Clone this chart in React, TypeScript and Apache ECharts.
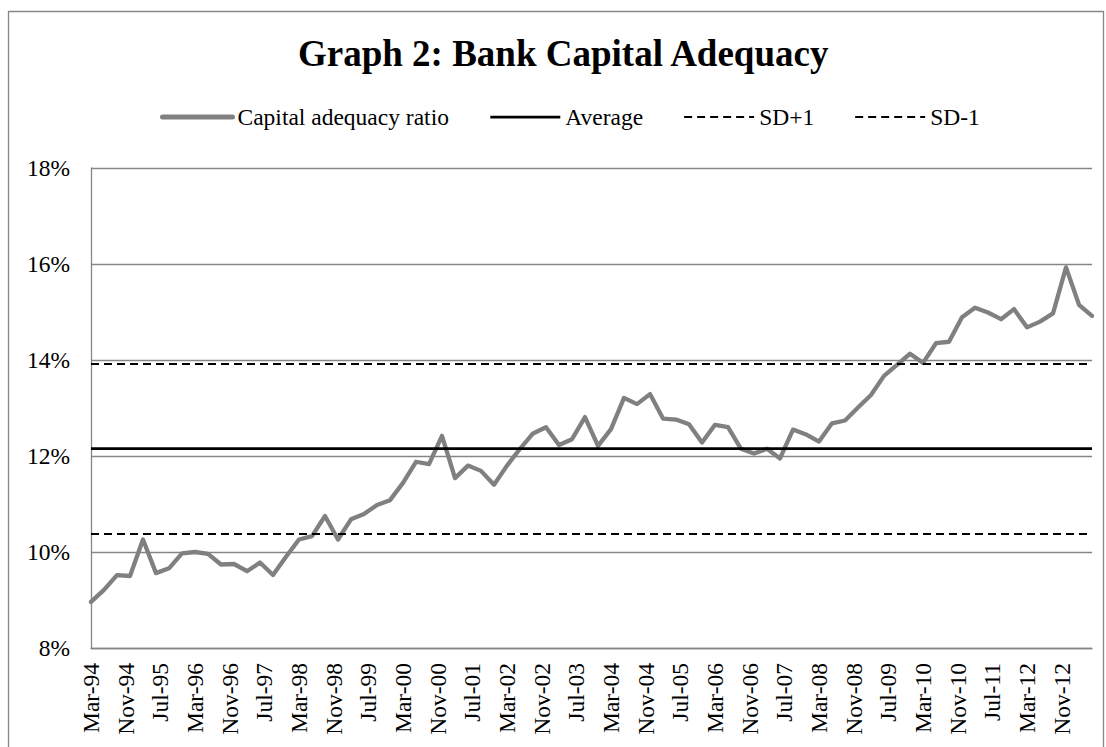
import React, { useEffect, useRef } from "react";
import * as echarts from "echarts";

const FONT = '"Liberation Serif", "Times New Roman", serif';

const MONTH_NAMES = ["Jan", "Feb", "Mar", "Apr", "May", "Jun", "Jul", "Aug", "Sep", "Oct", "Nov", "Dec"];

// Monthly date axis from Mar-94 to Jun-13 (labels shown every 8 months)
const monthCategories: string[] = [];
for (let k = 0; k < 232; k++) {
  const m = (2 + k) % 12;
  const y = 1994 + Math.floor((2 + k) / 12);
  monthCategories.push(`${MONTH_NAMES[m]}-${String(y % 100).padStart(2, "0")}`);
}

// Quarterly observation dates (Mar, Jun, Sep, Dec)
const quarterDates: string[] = monthCategories.filter((_, k) => k % 3 === 0);

// Capital adequacy ratio, %
const capitalRatio: number[] = [
  8.96, 9.21, 9.52, 9.5, 10.26, 9.56, 9.66, 9.97, 10.0, 9.96,
  9.74, 9.75, 9.6, 9.78, 9.52, 9.9, 10.26, 10.33, 10.75, 10.26,
  10.68, 10.79, 10.98, 11.08, 11.44, 11.88, 11.83, 12.42, 11.54, 11.8,
  11.69, 11.4, 11.8, 12.15, 12.47, 12.6, 12.23, 12.35, 12.81, 12.21,
  12.56, 13.21, 13.08, 13.29, 12.78, 12.76, 12.66, 12.28, 12.65, 12.6,
  12.15, 12.05, 12.15, 11.95, 12.55, 12.45, 12.3, 12.68, 12.74, 13.01,
  13.27, 13.67, 13.9, 14.13, 13.94, 14.35, 14.38, 14.89, 15.09, 14.99,
  14.85, 15.06, 14.68, 14.8, 14.97, 15.93, 15.15, 14.92,
];

const AVERAGE = 12.16;
const SD_PLUS_1 = 13.93;
const SD_MINUS_1 = 10.38;

const Y_TICKS = { min: 8, max: 18, interval: 2 };

const RATIO_COLOR = "#808080";
const DASH = [8, 5];

export default function App() {
  const ref = useRef<HTMLDivElement>(null);

  useEffect(() => {
    if (!ref.current) return;
    const chart = echarts.init(ref.current, undefined, { renderer: "svg" });

    const refLine = (name: string, value: number, type: any, width: number) => ({
      name,
      type: "line",
      data: [],
      symbol: "none",
      lineStyle: { color: "#000", width, type },
      itemStyle: { color: "#000" },
      markLine: {
        silent: true,
        symbol: ["none", "none"],
        label: { show: false },
        lineStyle: { color: "#000", width, type },
        emphasis: { disabled: true },
        data: [{ yAxis: value }],
      },
    });

    chart.setOption({
      animation: false,
      backgroundColor: "#fff",
      title: {
        text: "Graph 2: Bank Capital Adequacy",
        left: 298,
        top: 35,
        padding: 0,
        textStyle: { fontFamily: FONT, fontSize: 37, fontWeight: "bold", color: "#000" },
      },
      legend: {
        left: 160,
        top: 104,
        padding: 0,
        itemWidth: 70,
        itemHeight: 14,
        itemGap: 40,
        itemStyle: { opacity: 0, borderWidth: 0 },
        textStyle: { fontFamily: FONT, fontSize: 23.5, color: "#000", lineHeight: 26 },
        data: [
          { name: "Capital adequacy ratio", lineStyle: { color: RATIO_COLOR, width: 5, cap: "round" } },
          { name: "Average", lineStyle: { color: "#000", width: 2.75, type: "solid" } },
          { name: "SD+1", lineStyle: { color: "#000", width: 2, type: DASH } },
          { name: "SD-1", lineStyle: { color: "#000", width: 2, type: DASH } },
        ],
      },
      graphic: [
        {
          type: "rect",
          shape: { x: 8.5, y: 11.5, width: 1095, height: 800 },
          style: { fill: "none", stroke: "#868686", lineWidth: 1.3 },
          silent: true,
          z: -1,
        },
      ],
      grid: { left: 91, right: 14, top: 168, bottom: 99, containLabel: false },
      xAxis: {
        type: "category",
        data: monthCategories,
        boundaryGap: false,
        axisLine: { lineStyle: { color: "#868686", width: 1.3 } },
        axisTick: { show: false },
        splitLine: { show: false },
        axisLabel: {
          interval: 7,
          rotate: 90,
          margin: 15,
          fontFamily: FONT,
          fontSize: 23.5,
          color: "#000",
        },
      },
      yAxis: {
        type: "value",
        min: Y_TICKS.min,
        max: Y_TICKS.max,
        interval: Y_TICKS.interval,
        axisLine: { show: true, lineStyle: { color: "#868686", width: 1.3 } },
        axisTick: { show: false },
        splitLine: { lineStyle: { color: "#868686", width: 1.3 } },
        axisLabel: {
          formatter: "{value}%",
          margin: 21,
          fontFamily: FONT,
          fontSize: 23.5,
          color: "#000",
        },
      },
      series: [
        {
          name: "Capital adequacy ratio",
          type: "line",
          data: quarterDates.map((d, i) => [d, capitalRatio[i]]),
          symbol: "none",
          lineStyle: { color: RATIO_COLOR, width: 4.3, join: "round", cap: "round" },
          itemStyle: { color: RATIO_COLOR },
        },
        refLine("Average", AVERAGE, "solid", 2.75),
        refLine("SD+1", SD_PLUS_1, DASH, 2),
        refLine("SD-1", SD_MINUS_1, DASH, 2),
      ],
    });

    return () => chart.dispose();
  }, []);

  return (
    <div
      ref={ref}
      style={{ position: "absolute", left: 0, top: 0, width: 1106, height: 747, background: "#fff" }}
    />
  );
}
